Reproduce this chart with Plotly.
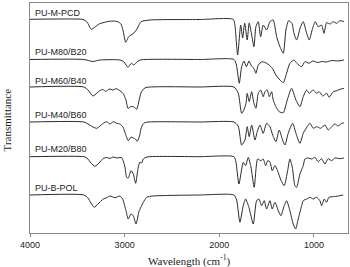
import plotly.graph_objects as go

# sample names (top to bottom)
names = ["PU-M-PCD", "PU-M80/B20", "PU-M60/B40", "PU-M40/B60", "PU-M20/B80", "PU-B-POL"]

# wavenumbers (cm-1) and relative transmittance (0 = baseline, negative = absorption)
wn1 = [4000, 3683, 3440, 3398, 3352, 3313, 3271, 3229, 3176, 3123, 3071, 3039, 3018, 2989, 2975, 2960, 2933, 2902, 2870, 2849, 2828, 2732, 2204,
       1853, 1835, 1806, 1774, 1753, 1732, 1705, 1684, 1658, 1634, 1613, 1588, 1563, 1536, 1500, 1465, 1430, 1394, 1359, 1324, 1296, 1267,
       1232, 1211, 1183, 1141, 1113, 1077, 1050, 1014, 986, 955, 919, 894, 866, 831, 796, 760, 725, 683]
t1 = [0, 0.3, -0.2, -2.7, -10, -7.7, -4.7, -3.4, -2.2, -1.7, -2.5, -4.7, -10.7, -23, -20.7, -17.7, -15.7, -13.7, -9.7, -5.7, -2.4, -0.7, -0.2,
      0, -5.7, -35.7, -5.7, -18.7, -3.7, -20.7, -3.7, -15.7, -27.4, -7.4, -2.4, -17.4, -5.7, -10.7, -2.4, -0.7, -17.4, -27.4, -34, -10.7, -1.4,
      -4, -14, -20.7, -7.4, -2.4, -14, -20.7, -9, -2.4, -7.4, -5.7, -14, -3.4, -4.7, -2.4, -4, -1.4, -2.2]

wn2 = [4000, 3430, 3335, 3261, 3049, 3007, 2965, 2930, 2902, 2870, 2838, 2204,
       1845, 1819, 1789, 1764, 1740, 1713, 1687, 1660, 1634, 1613, 1588, 1549, 1510, 1475, 1439, 1402, 1359, 1324, 1289, 1254,
       1211, 1183, 1159, 1130, 1095, 1053, 1011, 958, 916, 873, 810, 747, 683]
t2 = [0, 0, -2, -0.5, -0.5, -2.5, -7.8, -3.8, -5.5, -2.5, -0.5, 0,
      0, -5.5, -23.8, -7.2, -1.5, -7.2, -1.5, -6.5, -8.8, -13.8, -5.5, -2.2, -3.2, -5.5, -8.8, -15.5, -20.5, -23.2, -13.8, -3.8,
      -0.5, -3.5, -5.5, -7.2, -2.2, -3.8, -1.5, -3, -2, -2.5, -1, -1.5, -0.5]

wn3 = [4000, 3430, 3387, 3335, 3292, 3264, 3229, 3197, 3166, 3123, 3092, 3060, 3018, 2986, 2965, 2933, 2902, 2873, 2849, 2828, 2810, 2775, 2204,
       1845, 1800, 1764, 1740, 1718, 1705, 1684, 1658, 1634, 1613, 1588, 1563, 1536, 1518, 1493, 1472, 1447, 1430, 1402, 1367, 1324, 1282,
       1236, 1190, 1148, 1113, 1077, 1050, 1007, 972, 944, 908, 866, 839, 796, 760, 725, 683]
t3 = [0, 0, -3, -9, -6, -3.7, -2.5, -4.5, -2, -3, -1.7, -3, -6.3, -13, -21.3, -19.5, -20, -22.3, -14, -6, -3, -0.5, 0,
      0, -6, -26.3, -23, -16.3, -6.3, -14.7, -4.7, -16.3, -21.3, -6.3, -3, -9.7, -4.7, -3, -9.7, -4.7, -13, -19.7, -24.7, -25.7, -13,
      -1.3, -13, -19.7, -9.7, -3, -6.3, -3, -6.3, -4.7, -9, -6.3, -10.3, -4.7, -3.7, -2.3, -1.3]

wn4 = [4000, 3430, 3387, 3335, 3295, 3261, 3226, 3190, 3155, 3120, 3084, 3049, 3018, 2991, 2962, 2933, 2909, 2886, 2867, 2843, 2828, 2806, 2775, 2204,
       1845, 1800, 1764, 1729, 1705, 1684, 1658, 1623, 1599, 1570, 1536, 1500, 1465, 1436, 1402, 1367, 1331, 1306, 1272, 1225,
       1190, 1148, 1113, 1071, 1042, 1007, 972, 930, 884, 849, 813, 778, 743, 708, 683]
t4 = [0, 0, -2, -5, -6.3, -4, -1.3, 0.3, -2, 0.3, -1.3, -2, -5, -12, -18.7, -15, -16, -17, -19.3, -14, -7, -2, -0.3, 0,
      0, -4, -23, -18, -4.7, -14.7, -3, -18, -9.7, -3, -11.3, -1.3, -4.7, -13, -19.7, -8, -18, -23, -11.3, -1.3,
      -11.3, -21.3, -11.3, -4.7, -1.3, -6.3, -4.7, -6.3, -3, -8, -4.7, -2, -4, -1.3, -1]

wn5 = [4000, 3430, 3398, 3356, 3313, 3271, 3226, 3187, 3155, 3123, 3081, 3049, 3028, 2997, 2979, 2962, 2933, 2909, 2884, 2856, 2838, 2820, 2803, 2764, 2204,
       1845, 1824, 1792, 1747, 1722, 1694, 1666, 1631, 1595, 1560, 1536, 1510, 1489, 1465, 1441, 1412, 1384, 1349, 1314, 1278, 1254,
       1229, 1201, 1183, 1148, 1113, 1095, 1060, 1024, 990, 955, 919, 884, 849, 813, 778, 725, 683]
t5 = [0, 0, -1.3, -6.3, -9.6, -6.3, -1.8, -0.8, -1.8, -0.3, -1.3, -0.8, -1.3, -10.3, -20.6, -21.3, -14, -17.3, -26.6, -10.3, -5.3, -6.3, -2.3, -0.3, 0,
      0, -5.3, -27.3, -5.6, -9, -0.6, -10, -30.6, -2.3, -4, -2.3, -9, -4, -5, -14, -9, -14, -23.3, -29, -14, -2.3,
      -10.3, -29, -30.6, -17.3, -9, -2.3, -1.3, -2.3, -0.6, -5, -2, -7.3, -2, -4, -1.3, -2, -1.3]

wn6 = [4000, 3430, 3387, 3356, 3321, 3282, 3226, 3190, 3155, 3102, 3049, 3021, 2986, 2962, 2933, 2909, 2880, 2846, 2820, 2803, 2767, 2701, 2204,
       1845, 1817, 1782, 1747, 1722, 1687, 1641, 1606, 1581, 1553, 1525, 1500, 1465, 1441, 1412, 1377, 1349, 1314, 1289, 1254,
       1219, 1193, 1166, 1130, 1113, 1077, 1042, 1007, 972, 937, 919, 891, 866, 842, 796, 743, 690]
t6 = [0, 0, -3, -8, -12.3, -9, -4, -2.7, -1, -2.7, -1, -4, -15.7, -24, -19, -20.7, -29, -15.7, -10.7, -7.3, -2.3, -1, 0,
      0, -5, -27.3, -10.7, -4, -12.3, -29, -5.7, -4, -10.7, -5.7, -14, -5.7, -14, -7.3, -15.7, -20.7, -10.7, -5.7, -15.7,
      -29, -34, -24, -10.7, -5.7, -4, -2.3, -4, -2.3, -5.7, -10.7, -4, -7.3, -2.3, -1.7, -1, 0]

wavenumbers = [wn1, wn2, wn3, wn4, wn5, wn6]
transmittance = [t1, t2, t3, t4, t5, t6]

# vertical stacking offsets (layout)
offsets = [213.7, 173.5, 146, 111, 76.3, 38]
label_y = [220, 181, 152, 118, 84, 45]

x_ticks = [4000, 3000, 2000, 1000]

fig = go.Figure()
for wn, tr, off in zip(wavenumbers, transmittance, offsets):
    fig.add_trace(go.Scatter(
        x=wn, y=[off + v for v in tr], mode="lines",
        line=dict(color="#2b2b2b", width=1, shape="spline", smoothing=0.6),
        showlegend=False, hoverinfo="skip"))

for name, ly in zip(names, label_y):
    fig.add_annotation(x=3968, y=ly, text=name, showarrow=False, xanchor="left", yanchor="middle",
                       font=dict(family="Liberation Sans, Arial", size=9, color="#222"))

fig.add_annotation(xref="paper", yref="paper", x=0.5, y=-0.118, text="Wavelength (cm<sup>-1</sup>)",
                   showarrow=False, xanchor="center", yanchor="middle",
                   font=dict(family="Liberation Serif, Times New Roman", size=11, color="#222"))
fig.add_annotation(xref="paper", yref="paper", x=-0.072, y=0.49, text="Transmittance", textangle=-90,
                   showarrow=False, xanchor="center", yanchor="middle",
                   font=dict(family="Liberation Serif, Times New Roman", size=11, color="#222"))

fig.update_xaxes(range=[4000, 640], tickvals=x_ticks, ticktext=[str(v) for v in x_ticks],
                 ticks="outside", ticklen=3, tickcolor="#888", showline=True, linecolor="#888", linewidth=1.2,
                 mirror=True, showgrid=False, zeroline=False,
                 tickfont=dict(family="Liberation Sans, Arial", size=9, color="#222"))
fig.update_yaxes(range=[0, 230], showticklabels=False, ticks="", showline=True, linecolor="#888", linewidth=1.2,
                 mirror=True, showgrid=False, zeroline=False)

fig.update_layout(width=350, height=267, margin=dict(l=30, r=2, t=3, b=34),
                  paper_bgcolor="white", plot_bgcolor="white")

fig.write_html("out.html")
